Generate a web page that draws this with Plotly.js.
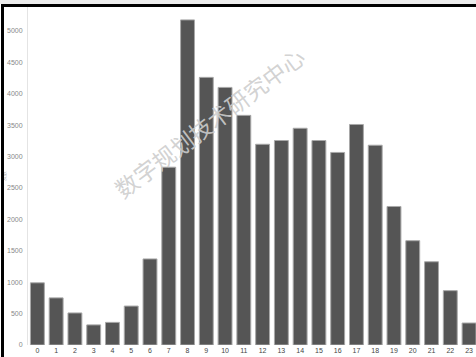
<!DOCTYPE html>
<html>
<head>
<meta charset="utf-8">
<script src="https://cdn.plot.ly/plotly-3.0.1.min.js"></script>
<style>
html,body{margin:0;padding:0;background:#fff;}
#wrap{position:relative;width:476px;height:357px;overflow:hidden;}
#chart{position:absolute;left:0;top:0;width:476px;height:357px;}
#topstrip{position:absolute;left:0;top:0;width:476px;height:4px;background:#ececec;pointer-events:none;}
#topline{position:absolute;left:1px;top:4px;width:475px;height:3px;background:#000;pointer-events:none;}
#leftline{position:absolute;left:1px;top:4px;width:3px;height:353px;background:#000;pointer-events:none;}
</style>
</head>
<body>
<div id="wrap">
<div id="chart"></div>
<div id="topstrip"></div>
<div id="topline"></div>
<div id="leftline"></div>
</div>
<script>
const hours = ["0","1","2","3","4","5","6","7","8","9","10","11","12","13","14","15","16","17","18","19","20","21","22","23"];
const counts = [990, 750, 510, 320, 360, 620, 1370, 2830, 5175, 4260, 4100, 3655, 3195, 3255, 3450, 3255, 3065, 3510, 3180, 2205, 1660, 1325, 865, 350];
const yTitle = "次数";
const watermark = "数字规划技术研究中心";

const trace = {
  type: "bar",
  x: hours,
  y: counts,
  marker: {color: "#555555", line: {color: "#a8a8a8", width: 1}},
  width: 0.74,
  hoverinfo: "x+y"
};

const layout = {
  width: 476,
  height: 357,
  margin: {l: 28, r: 0, t: 7, b: 12, pad: 0},
  paper_bgcolor: "#ffffff",
  plot_bgcolor: "#ffffff",
  showlegend: false,
  font: {family: "Liberation Sans, Arial, sans-serif", size: 7, color: "#888888"},
  xaxis: {
    type: "category",
    range: [-0.5, 23.37],
    showgrid: false,
    zeroline: false,
    showline: false,
    ticks: "",
    tickfont: {family: "Liberation Sans, Arial, sans-serif", size: 7, color: "#444444"},
    automargin: false
  },
  yaxis: {
    range: [0, 5380],
    dtick: 500,
    tick0: 0,
    showgrid: false,
    zeroline: false,
    showline: true,
    linecolor: "#e4e4e4",
    linewidth: 1,
    ticks: "",
    ticklabelstandoff: 3,
    tickfont: {family: "Liberation Sans, Arial, sans-serif", size: 7, color: "#888888"},
    automargin: false,
    title: {text: yTitle, font: {size: 5, color: "#aaaaaa"}, standoff: 0}
  },
  annotations: [{
    text: watermark,
    xref: "paper", yref: "paper",
    x: 0.405, y: 0.66,
    showarrow: false,
    textangle: -37,
    font: {family: "Noto Sans CJK SC", size: 23, color: "rgba(205,205,205,0.9)"}
  }]
};

Plotly.newPlot("chart", [trace], layout, {displayModeBar: false, staticPlot: true});
</script>
</body>
</html>
